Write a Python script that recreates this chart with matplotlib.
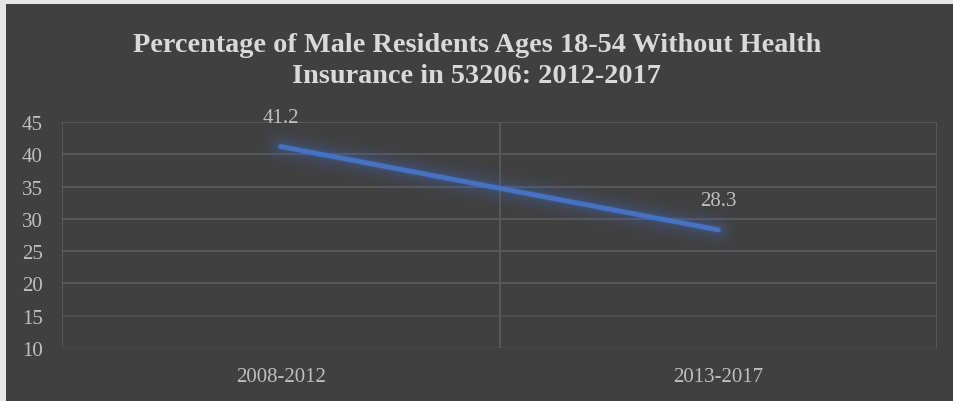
import matplotlib
matplotlib.use('Agg')
import matplotlib.pyplot as plt

# data
periodos = ['2008-2012', '2013-2017']
porcentajes = [41.2, 28.3]
y_ticks = [10, 15, 20, 25, 30, 35, 40, 45]

titulo = 'Percentage of Male Residents Ages 18-54 Without Health\nInsurance in 53206: 2012-2017'

fondo = '#404040'
texto = '#bfbfbf'
azul = '#4472c4'

plt.rcParams['font.family'] = ['Liberation Serif', 'DejaVu Serif']

fig = plt.figure(figsize=(9.54, 4.02), dpi=100)
fig.patch.set_facecolor('#e6e6e6')
# dark chart area inside a thin light border
fig.add_artist(plt.Rectangle((6 / 954, 0), 1, 1 - 5 / 402, transform=fig.transFigure,
                             facecolor=fondo, edgecolor='none', zorder=0))

ax = fig.add_axes([62 / 954, 1 - 349 / 402, 875 / 954, (349 - 123) / 402])
ax.set_facecolor(fondo)
for s in ax.spines.values():
    s.set_visible(False)

x = list(range(len(periodos)))
ax.set_xlim(-0.5, len(periodos) - 0.5)
ax.set_ylim(y_ticks[0], y_ticks[-1])

# horizontal gridlines, fading towards the bottom
for v in y_ticks:
    alpha = 1.0 if v >= 20 else (0.6 if v == 15 else 0.3)
    ax.axhline(v, color='#5c5c5c', lw=1.2, alpha=alpha, zorder=1)
# vertical gridlines between categories
for v in [-0.5 + i for i in range(len(periodos) + 1)]:
    ax.axvline(v, color='#5c5c5c', lw=1.2, zorder=1)

# glow
for w, a in [(28, 0.035), (21, 0.05), (15, 0.07), (10, 0.1), (6, 0.15)]:
    ax.plot(x, porcentajes, color=azul, lw=w, alpha=a, solid_capstyle='round', zorder=2)
ax.plot(x, porcentajes, color=azul, lw=3.5, solid_capstyle='round', zorder=3)

for xi, yi in zip(x, porcentajes):
    ax.annotate(f'{yi}', (xi, yi), xytext=(0, 21), textcoords='offset points',
                ha='center', va='center', color=texto, fontsize=15)

ax.set_xticks(x)
ax.set_xticklabels(periodos)
ax.set_yticks(y_ticks)
ax.tick_params(axis='both', length=0, colors=texto, labelsize=15)
ax.tick_params(axis='x', pad=14)
ax.tick_params(axis='y', pad=29)
for lbl in ax.get_yticklabels():
    lbl.set_horizontalalignment('left')

fig.text(0.5, 1 - 61 / 402, titulo, ha='center', va='center', color='#d9d9d9',
         fontsize=20.3, fontweight='bold', linespacing=1.35)

fig.savefig('out.png', dpi=100, facecolor=fig.get_facecolor())
